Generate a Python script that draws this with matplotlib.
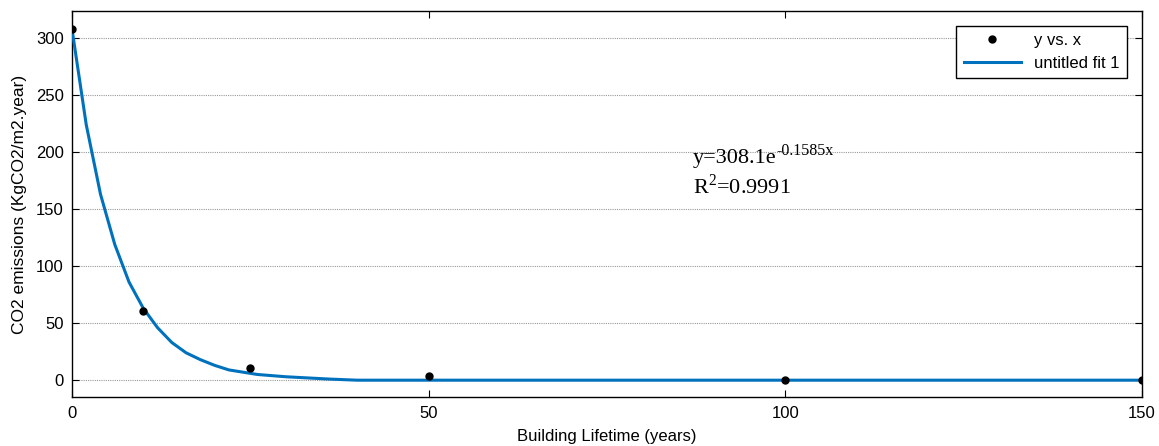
import matplotlib
matplotlib.use("Agg")
import matplotlib.pyplot as plt

# measured points
x_data = [0, 10, 25, 50, 100, 150]
y_data = [308, 61, 11, 4, 0.5, 0.5]

# fitted curve
x_fit = [0, 2, 4, 6, 8, 10, 12, 14, 16, 18, 20, 22, 24, 26, 28, 30, 33, 36, 40, 60, 100, 150]
y_fit = [308, 224, 163, 119, 86, 63, 46, 33, 24, 18, 13, 9, 7, 5, 4, 3, 2, 1, 0, 0, 0, 0]

y_ticks = [0, 50, 100, 150, 200, 250, 300]
x_ticks = [0, 50, 100, 150]

plt.rcParams["font.family"] = ["Liberation Sans", "DejaVu Sans"]
plt.rcParams["mathtext.fontset"] = "custom"
plt.rcParams["mathtext.rm"] = "Liberation Serif"

fig = plt.figure(figsize=(11.59, 4.46), dpi=100)
ax = fig.add_axes([0.0621, 0.1092, 0.9232, 0.867])

ax.plot(x_data, y_data, "o", color="black", markersize=5, label="y vs. x", zorder=4)
ax.plot(x_fit, y_fit, "-", color="#0072BD", linewidth=2.2, label="untitled fit 1", zorder=3)

ax.set_xlim(0, 150)
ax.set_ylim(-15, 324)
ax.set_xticks(x_ticks)
ax.set_yticks(y_ticks)
ax.tick_params(direction="in", length=5, labelsize=12, pad=6, top=True, right=True, colors="black")
ax.yaxis.grid(True, color="#9a9a9a", linestyle=(0, (1, 1)), linewidth=0.8)
for s in ax.spines.values():
    s.set_linewidth(1.0)

ax.set_xlabel("Building Lifetime (years)", fontsize=12, labelpad=6)
ax.set_ylabel("CO2 emissions (KgCO2/m2.year)", fontsize=12.5, labelpad=6)

# fit equation, with the exponent as its own smaller text
serif = ["Liberation Serif", "DejaVu Serif"]
t = ax.text(87, 194, "y=308.1e", fontsize=16, family=serif, va="center")
ax.text(87, 170, r"R$^{\mathregular{2}}$=0.9991", fontsize=16, family=serif, va="center")
fig.canvas.draw()
bb = t.get_window_extent().transformed(ax.transData.inverted())
ax.text(bb.x1, 194, "-0.1585x", fontsize=11.5, family=serif, va="bottom")

leg = ax.legend(loc="upper right", fontsize=12, fancybox=False, framealpha=1,
                edgecolor="black", borderaxespad=0.9, handlelength=3.4,
                labelspacing=0.45, borderpad=0.45)
leg.get_frame().set_linewidth(1.0)

fig.savefig("out.png", dpi=100)
